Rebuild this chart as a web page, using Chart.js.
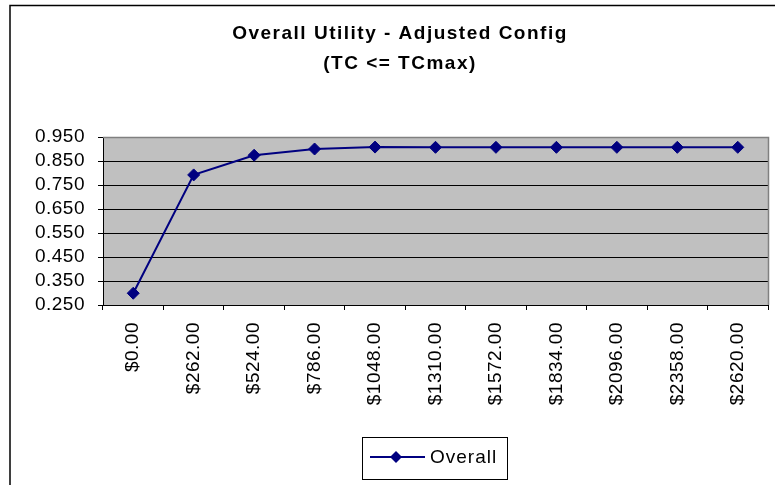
<!DOCTYPE html>
<html>
<head>
<meta charset="utf-8">
<script src="https://cdn.jsdelivr.net/npm/chart.js@4/dist/chart.umd.min.js"></script>
<style>
  html, body { margin: 0; padding: 0; background: #ffffff; overflow: hidden; width: 775px; height: 485px; }
  canvas { display: block; width: 775px; height: 485px; }
</style>
</head>
<body>
<canvas id="c" width="775" height="485"></canvas>
<script>
const categories = ["$0.00", "$262.00", "$524.00", "$786.00", "$1048.00", "$1310.00", "$1572.00", "$1834.00", "$2096.00", "$2358.00", "$2620.00"];
const overallValues = [0.299, 0.792, 0.874, 0.900, 0.908, 0.907, 0.907, 0.907, 0.907, 0.907, 0.907];
const seriesName = "Overall";
const titleLines = ["Overall Utility - Adjusted Config", "(TC <= TCmax)"];
const yMin = 0.25, yMax = 0.95, yStep = 0.1;

const FONT = "'Liberation Sans', Arial, sans-serif";
const NAVY = "#000080";

const framePlugin = {
  id: 'frame',
  beforeDraw(chart) {
    const ctx = chart.ctx;
    const a = chart.chartArea;
    ctx.save();
    ctx.fillStyle = '#ffffff';
    ctx.fillRect(0, 0, chart.width, chart.height);
    ctx.fillStyle = '#c0c0c0';
    ctx.fillRect(a.left, a.top, a.right - a.left, a.bottom - a.top);
    ctx.restore();
    ctx.letterSpacing = '0.5px';
  },
  afterDraw(chart) {
    const ctx = chart.ctx;
    const a = chart.chartArea;
    ctx.save();
    // plot border (top/right in gray)
    ctx.strokeStyle = '#808080';
    ctx.lineWidth = 1.5;
    ctx.beginPath();
    ctx.moveTo(a.left, a.top + 0.5);
    ctx.lineTo(a.right + 0.5, a.top + 0.5);
    ctx.lineTo(a.right + 0.5, a.bottom);
    ctx.stroke();
    // chart frame: left and top edges only
    ctx.strokeStyle = '#000000';
    ctx.lineWidth = 1.5;
    ctx.beginPath();
    ctx.moveTo(10, chart.height);
    ctx.lineTo(10, 5.5);
    ctx.lineTo(chart.width, 5.5);
    ctx.stroke();
    // title
    ctx.letterSpacing = '1.5px';
    ctx.fillStyle = '#000000';
    ctx.font = "bold 19px " + FONT;
    ctx.textAlign = 'center';
    ctx.textBaseline = 'middle';
    ctx.fillText(titleLines[0], 400, 34);
    ctx.fillText(titleLines[1], 400, 64);
    // legend
    ctx.letterSpacing = '1px';
    ctx.strokeStyle = '#000000';
    ctx.lineWidth = 1;
    ctx.strokeRect(362.5, 437.5, 145, 42);
    const ds = chart.data.datasets[0];
    ctx.strokeStyle = NAVY;
    ctx.lineWidth = 2;
    ctx.beginPath();
    ctx.moveTo(370, 457);
    ctx.lineTo(425, 457);
    ctx.stroke();
    ctx.fillStyle = NAVY;
    ctx.beginPath();
    ctx.moveTo(396 - 6, 457);
    ctx.lineTo(396, 457 - 6);
    ctx.lineTo(396 + 6, 457);
    ctx.lineTo(396, 457 + 6);
    ctx.closePath();
    ctx.fill();
    ctx.fillStyle = '#000000';
    ctx.font = "19px " + FONT;
    ctx.textAlign = 'left';
    ctx.textBaseline = 'middle';
    ctx.fillText(ds.label, 430, 458);
    // clear a strip at the far right (outside the plot)
    ctx.fillStyle = '#ffffff';
    ctx.fillRect(771, 7, 4, chart.height - 7);
    ctx.restore();
  }
};

new Chart(document.getElementById('c'), {
  type: 'line',
  data: {
    labels: categories,
    datasets: [{
      label: seriesName,
      data: overallValues,
      borderColor: NAVY,
      backgroundColor: NAVY,
      borderWidth: 2,
      pointStyle: 'rectRot',
      pointRadius: 6,
      pointBorderWidth: 1,
      pointBackgroundColor: NAVY,
      pointBorderColor: NAVY,
      tension: 0,
      fill: false
    }]
  },
  options: {
    responsive: false,
    animation: false,
    devicePixelRatio: 1,
    layout: { padding: { left: 0, right: 6, top: 137, bottom: 0 } },
    plugins: {
      legend: { display: false },
      title: { display: false },
      tooltip: { enabled: false }
    },
    scales: {
      x: {
        offset: true,
        afterFit(scale) { scale.height = 180; },
        grid: {
          offset: true,
          drawOnChartArea: false,
          drawTicks: true,
          tickLength: 5,
          tickColor: '#000000',
          color: '#000000'
        },
        border: { display: true, color: '#000000', width: 1 },
        ticks: {
          autoSkip: false,
          maxRotation: 90,
          minRotation: 90,
          padding: 12,
          color: '#000000',
          font: { family: FONT, size: 19 }
        }
      },
      y: {
        min: yMin,
        max: yMax,
        afterFit(scale) { scale.width = 103; },
        grid: {
          drawTicks: true,
          tickLength: 5,
          tickColor: '#000000',
          color: (c) => (c.tick && Math.abs(c.tick.value - yMax) < 1e-6) ? '#808080' : '#000000',
          lineWidth: 1
        },
        border: { display: true, color: '#000000', width: 1 },
        ticks: {
          autoSkip: false,
          stepSize: yStep,
          padding: 13,
          color: '#000000',
          font: { family: FONT, size: 19 },
          callback: (v) => Number(v).toFixed(3)
        }
      }
    }
  },
  plugins: [framePlugin]
});
</script>
</body>
</html>
